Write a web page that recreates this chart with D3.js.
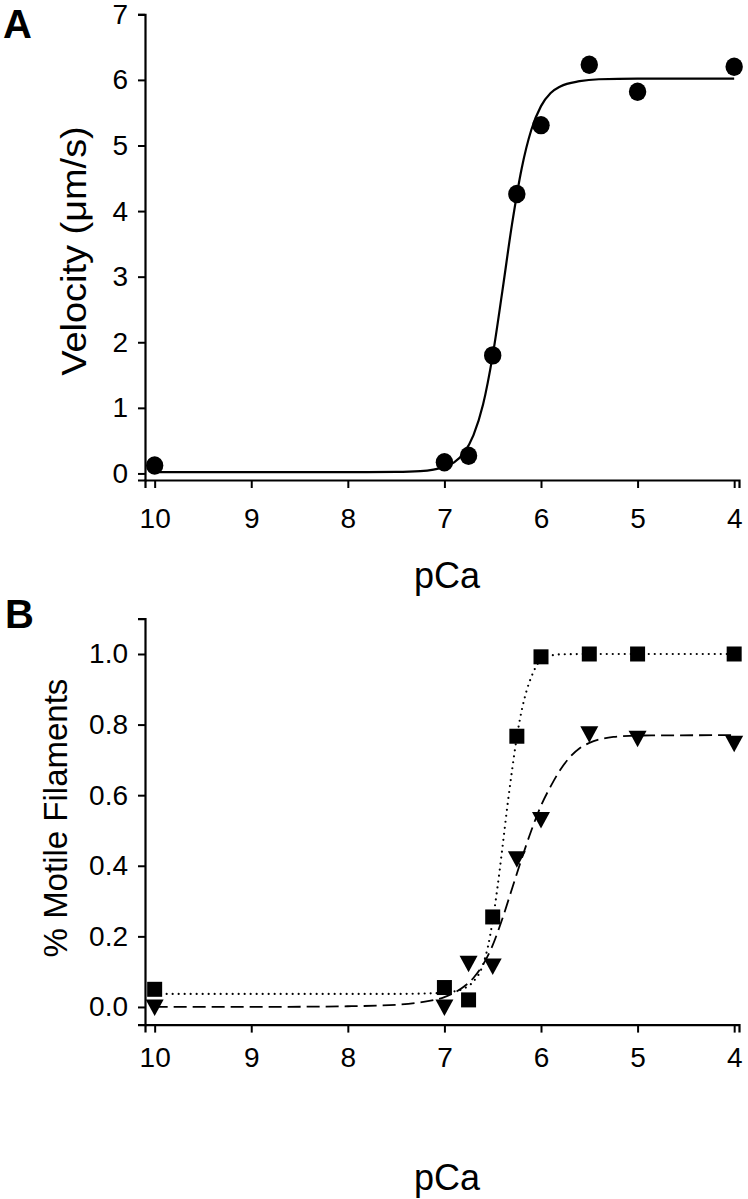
<!DOCTYPE html>
<html>
<head>
<meta charset="utf-8">
<script src="https://cdn.jsdelivr.net/npm/d3@7"></script>
<style>
  html, body { margin: 0; padding: 0; background: #fff; }
  svg { display: block; }
  text { font-family: "Liberation Sans", Arial, Helvetica, sans-serif; fill: #000; }
</style>
</head>
<body>
<svg id="chart" width="748" height="1199"></svg>
<script>
// ---- data ----
const pCa = [10, 7, 6.75, 6.5, 6.25, 6, 5.5, 5, 4];
const velocity = [0.12, 0.17, 0.27, 1.80, 4.26, 5.31, 6.23, 5.82, 6.20];
const motileSquares = [0.05, 0.055, 0.02, 0.255, 0.767, 0.992, 1.0, 1.0, 1.0];
const motileTriangles = [0.0, 0.0, 0.124, 0.116, 0.42, 0.531, 0.774, 0.761, 0.747];

// fitted curves
const velocityFitX = [10, 9, 8, 7.5, 7.25, 7.0, 6.9, 6.8, 6.7, 6.6, 6.5, 6.4, 6.3, 6.2, 6.1, 6.0, 5.9, 5.8, 5.6, 5.4, 5.0, 4.0];
const velocityFitY = [0.02, 0.02, 0.02, 0.023, 0.034, 0.10, 0.17, 0.31, 0.58, 1.05, 1.80, 2.78, 3.80, 4.65, 5.24, 5.60, 5.80, 5.90, 5.98, 6.01, 6.02, 6.02];
const squareFitX = [10, 9, 8, 7.5, 7.0, 6.9, 6.8, 6.7, 6.6, 6.55, 6.5, 6.45, 6.4, 6.35, 6.3, 6.25, 6.2, 6.15, 6.1, 6.05, 6.0, 5.9, 5.8, 5.5, 5.0, 4.0];
const squareFitY = [0.037, 0.037, 0.037, 0.037, 0.04, 0.044, 0.052, 0.072, 0.12, 0.17, 0.245, 0.34, 0.45, 0.565, 0.67, 0.765, 0.84, 0.895, 0.935, 0.965, 0.983, 0.995, 0.999, 1.0, 1.0, 1.0];
const triangleFitX = [10, 9, 8, 7.5, 7.25, 7.0, 6.9, 6.8, 6.7, 6.6, 6.5, 6.4, 6.3, 6.2, 6.1, 6.0, 5.9, 5.8, 5.7, 5.6, 5.5, 5.25, 5.0, 4.0];
const triangleFitY = [0.0, 0.0, 0.002, 0.006, 0.013, 0.028, 0.04, 0.057, 0.082, 0.12, 0.175, 0.25, 0.335, 0.42, 0.5, 0.57, 0.625, 0.672, 0.708, 0.733, 0.748, 0.765, 0.769, 0.77];

const xTicks = [10, 9, 8, 7, 6, 5, 4];
const yTicksA = [0, 1, 2, 3, 4, 5, 6, 7];
const yTicksB = [0.0, 0.2, 0.4, 0.6, 0.8, 1.0];

// ---- drawing ----
const svg = d3.select("#chart");
const FONT_TICK = 28;

const x = d3.scaleLinear().domain([10.1, 3.95]).range([145, 739]);
const yA = d3.scaleLinear().domain([-0.1, 7]).range([480, 14.3]);
const yB = d3.scaleLinear().domain([-0.05, 1.1]).range([1024.6, 618.7]);

function styleAxis(g) {
  g.select(".domain").attr("stroke", "#000").attr("stroke-width", 2.2);
  g.selectAll(".tick line").attr("stroke", "#000").attr("stroke-width", 2);
  g.selectAll(".tick text").style("font-size", FONT_TICK + "px").attr("fill", "#000");
}

// Panel A axes
svg.append("g").attr("transform", `translate(0,${yA.range()[0]})`)
  .call(d3.axisBottom(x).tickValues(xTicks).tickSizeOuter(0).tickSize(8).tickPadding(20).tickFormat(d3.format("d")))
  .call(styleAxis);
svg.append("g").attr("transform", `translate(${x.range()[0]},0)`)
  .call(d3.axisLeft(yA).tickValues(yTicksA).tickSizeOuter(0).tickSize(7).tickPadding(10).tickFormat(d3.format("d")))
  .call(styleAxis);

// Panel B axes
svg.append("g").attr("transform", `translate(0,${yB.range()[0]})`)
  .call(d3.axisBottom(x).tickValues(xTicks).tickSizeOuter(0).tickSize(8).tickPadding(15).tickFormat(d3.format("d")))
  .call(styleAxis);
svg.append("g").attr("transform", `translate(${x.range()[0]},0)`)
  .call(d3.axisLeft(yB).tickValues(yTicksB).tickSizeOuter(0).tickSize(7).tickPadding(10).tickFormat(d3.format(".1f")))
  .call(styleAxis);

// Curves
const lineA = d3.line().x(d => x(d[0])).y(d => yA(d[1])).curve(d3.curveMonotoneX);
const lineB = d3.line().x(d => x(d[0])).y(d => yB(d[1])).curve(d3.curveMonotoneX);

svg.append("path").datum(d3.zip(velocityFitX, velocityFitY))
  .attr("d", lineA).attr("fill", "none").attr("stroke", "#000").attr("stroke-width", 2.2);

svg.append("path").datum(d3.zip(squareFitX, squareFitY))
  .attr("d", lineB).attr("fill", "none").attr("stroke", "#000").attr("stroke-width", 2.2)
  .attr("stroke-linecap", "round").attr("stroke-dasharray", "0,6");

svg.append("path").datum(d3.zip(triangleFitX, triangleFitY))
  .attr("d", lineB).attr("fill", "none").attr("stroke", "#000").attr("stroke-width", 1.8)
  .attr("stroke-dasharray", "13,6");

// Points
svg.append("g").selectAll("ellipse").data(d3.zip(pCa, velocity)).join("ellipse")
  .attr("cx", d => x(d[0])).attr("cy", d => yA(d[1]))
  .attr("rx", 8.7).attr("ry", 9.2).attr("fill", "#000");

svg.append("g").selectAll("rect").data(d3.zip(pCa, motileSquares)).join("rect")
  .attr("x", d => x(d[0]) - 7.5).attr("y", d => yB(d[1]) - 7.5)
  .attr("width", 15).attr("height", 15).attr("fill", "#000");

const tri = "M-9,-7.5L9,-7.5L0,9Z";
svg.append("g").selectAll("path").data(d3.zip(pCa, motileTriangles)).join("path")
  .attr("transform", d => `translate(${x(d[0])},${yB(d[1])})`)
  .attr("d", tri).attr("fill", "#000");

// Titles
svg.append("text").attr("transform", "translate(447,588) scale(1,1.05)").attr("text-anchor", "middle")
  .style("font-size", "36px").text("pCa");
svg.append("text").attr("transform", "translate(447,1190) scale(1,1.05)").attr("text-anchor", "middle")
  .style("font-size", "36px").text("pCa");
svg.append("text").attr("transform", "translate(86,251) scale(1,1.1) rotate(-90)").attr("text-anchor", "middle")
  .style("font-size", "34.5px").text("Velocity (\u03bcm/s)");
svg.append("text").attr("transform", "translate(67,818) rotate(-90)").attr("text-anchor", "middle")
  .style("font-size", "33px").text("% Motile Filaments");

// Panel letters
svg.append("text").attr("x", 3).attr("y", 38).style("font-size", "40px").style("font-weight", "bold").text("A");
svg.append("text").attr("x", 5).attr("y", 628).style("font-size", "40px").style("font-weight", "bold").text("B");
</script>
</body>
</html>
